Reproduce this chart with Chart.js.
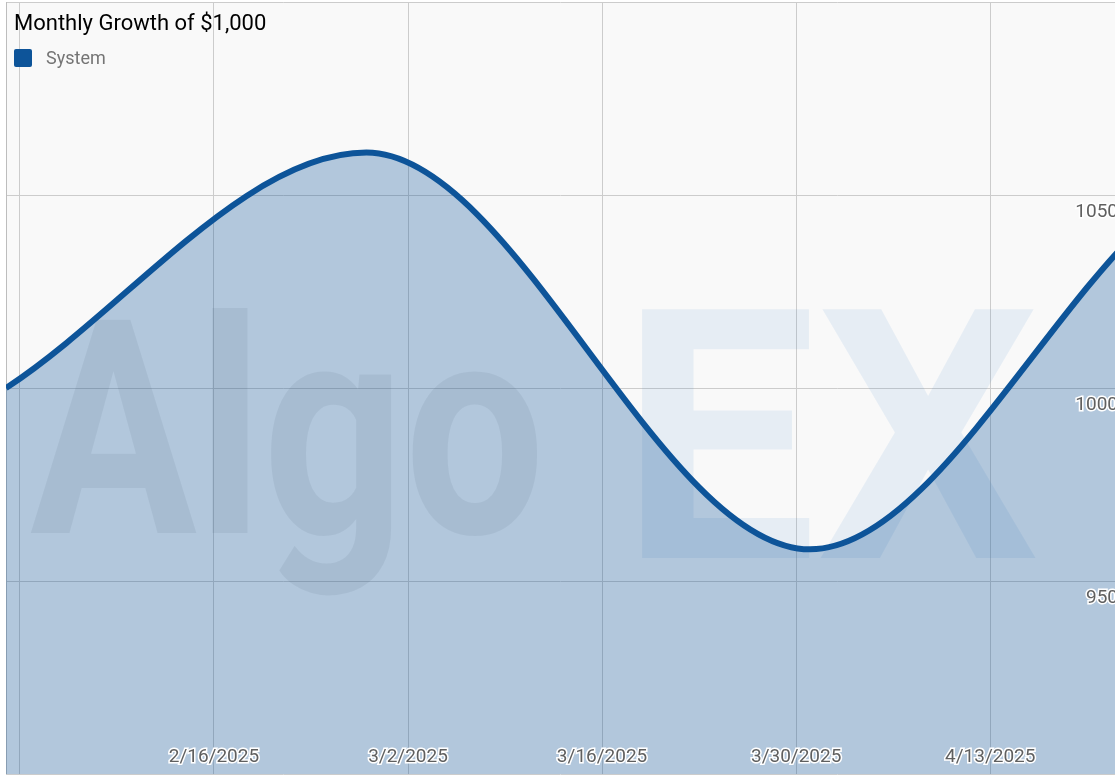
<!DOCTYPE html>
<html>
<head>
<meta charset="utf-8">
<title>Monthly Growth of $1,000</title>
<script src="https://cdn.jsdelivr.net/npm/chart.js@4.4.1/dist/chart.umd.min.js"></script>
<style>
    html, body { margin: 0; padding: 0; background: #fff; overflow: hidden; }
    #wrap { position: relative; width: 1115px; height: 776px; }
    #growthChart { position: absolute; left: 0; top: 0; }
    .chart-title { position: absolute; left: 14px; top: 10px; font: 22px Roboto, sans-serif; color: #000; }
    .chart-legend { position: absolute; left: 14px; top: 47px; font: 18px Roboto, sans-serif; color: #757575; display: flex; align-items: center; }
    .legend-box { width: 18px; height: 18px; background: #0d5499; border-radius: 2px; margin-right: 14px; }
</style>
</head>
<body>
<div id="wrap">
    <canvas id="growthChart" width="1115" height="776"></canvas>
    <div class="chart-title">Monthly Growth of $1,000</div>
    <div class="chart-legend"><span class="legend-box"></span><span>System</span></div>
</div>
<script>
// Series
const pointDates = ['2025-02-01', '2025-02-27', '2025-03-31', '2025-04-24'];
const systemValues = [1000, 1061, 958.2, 1042];

// Axes
const xRange = ['2025-02-01', '2025-04-22'];
const xTickDates = ['2025-02-02', '2025-02-16', '2025-03-02', '2025-03-16', '2025-03-30', '2025-04-13'];
const xTickLabels = ['', '2/16/2025', '3/2/2025', '3/16/2025', '3/30/2025', '4/13/2025'];
const yRange = [900, 1100];
const yTickValues = [900, 950, 1000, 1050, 1100];
const yTickLabels = ['', '950', '1000', '1050', ''];

const DAY = 86400000;
function dayNum(s) {
    return (Date.parse(s + 'T00:00:00Z') - Date.parse(xRange[0] + 'T00:00:00Z')) / DAY;
}

const tickFont = { family: 'Roboto', size: 19 };

// axes take no room: labels sit inside the plot
function flatten(s) {
    if (s.isHorizontal()) s.height = 0; else s.width = 0;
    s.paddingTop = 0;
    s.paddingBottom = 0;
    s.paddingLeft = 0;
    s.paddingRight = 0;
}

// background, frame and the watermark behind the series
const chartFrame = {
    id: 'chartFrame',
    beforeDraw(chart) {
        const { ctx, chartArea: a } = chart;
        ctx.save();
        ctx.fillStyle = '#f9f9f9';
        ctx.fillRect(a.left, a.top, a.width, a.height);
        ctx.restore();
    },
    beforeDatasetsDraw(chart) {
        const { ctx, chartArea: a } = chart;
        ctx.save();
        ctx.textBaseline = 'alphabetic';
        ctx.textAlign = 'left';
        ctx.font = 'bold 300px Roboto';
        ctx.fillStyle = 'rgba(0, 0, 0, 0.06)';
        ctx.fillText('Algo', a.left + 24, a.top + 531, 515);
        ctx.font = 'bold 350px Roboto';
        ctx.fillStyle = 'rgba(40, 120, 200, 0.09)';
        ctx.fillText('EX', a.left + 614, a.top + 556, 440);
        ctx.strokeStyle = '#bdbdbd';
        ctx.lineWidth = 1;
        ctx.beginPath();
        ctx.moveTo(a.left + 0.5, a.top);
        ctx.lineTo(a.left + 0.5, a.bottom);
        ctx.stroke();
        ctx.restore();
    }
};

const ctx = document.getElementById('growthChart');
new Chart(ctx, {
    type: 'line',
    data: {
        datasets: [{
            label: 'System',
            data: pointDates.map((d, i) => ({ x: dayNum(d), y: systemValues[i] })),
            borderColor: '#0d5499',
            borderWidth: 6,
            backgroundColor: 'rgba(13, 84, 153, 0.3)',
            fill: 'start',
            pointRadius: 0,
            cubicInterpolationMode: 'monotone',
            clip: 0
        }]
    },
    options: {
        responsive: false,
        animation: false,
        layout: { padding: { left: 6, top: 2, right: 0, bottom: 2 } },
        plugins: {
            legend: { display: false },
            title: { display: false },
            tooltip: { enabled: false }
        },
        scales: {
            x: {
                type: 'linear',
                min: 0,
                max: dayNum(xRange[1]),
                afterFit: flatten,
                afterBuildTicks(s) { s.ticks = xTickDates.map(d => ({ value: dayNum(d) })); },
                grid: { color: '#cccccc', drawTicks: false },
                border: { display: false },
                ticks: {
                    mirror: true,
                    autoSkip: false,
                    maxRotation: 0,
                    padding: 5,
                    z: 1,
                    color: '#5f5f5f',
                    font: tickFont,
                    textStrokeColor: '#ffffff',
                    textStrokeWidth: 3,
                    callback: (v, i) => xTickLabels[i]
                }
            },
            y: {
                position: 'right',
                min: yRange[0],
                max: yRange[1],
                afterFit: flatten,
                afterBuildTicks(s) { s.ticks = yTickValues.map(v => ({ value: v })); },
                grid: { color: '#cccccc', drawTicks: false },
                border: { display: false },
                ticks: {
                    mirror: true,
                    padding: 3,
                    labelOffset: 17,
                    z: 1,
                    color: '#5f5f5f',
                    font: tickFont,
                    textStrokeColor: '#ffffff',
                    textStrokeWidth: 3,
                    callback: (v, i) => yTickLabels[i]
                }
            }
        }
    },
    plugins: [chartFrame]
});
</script>
</body>
</html>
